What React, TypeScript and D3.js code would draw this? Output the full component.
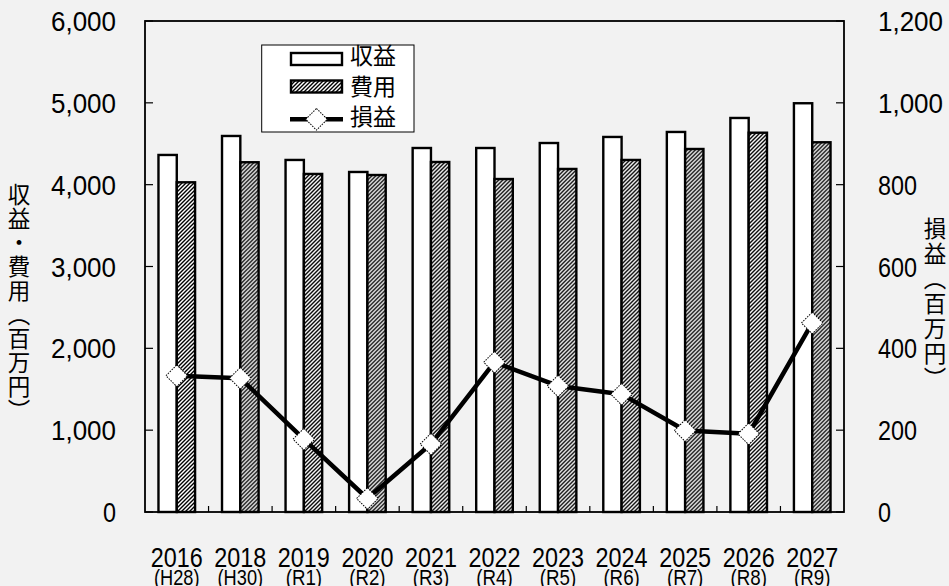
import React from 'react';
import * as d3 from 'd3';

const years = ['2016', '2018', '2019', '2020', '2021', '2022', '2023', '2024', '2025', '2026', '2027'];
const eras = ['(H28)', '(H30)', '(R1)', '(R2)', '(R3)', '(R4)', '(R5)', '(R6)', '(R7)', '(R8)', '(R9)'];
const revenue = [4363, 4595, 4302, 4155, 4448, 4448, 4509, 4583, 4644, 4815, 4995];
const expense = [4029, 4274, 4131, 4118, 4277, 4069, 4192, 4302, 4436, 4635, 4518];
const profit = [333, 327, 178, 33, 166, 366, 308, 288, 199, 191, 462];
const leftTicks = [0, 1000, 2000, 3000, 4000, 5000, 6000];
const rightTicks = [0, 200, 400, 600, 800, 1000, 1200];
const legendLabels = ['収益', '費用', '損益'];
const leftTitle = '収益・費用（百万円）';
const rightTitle = '損益（百万円）';

const W = 949;
const H = 586;
const L = 145, R = 844, T = 21, B = 512;
const numFont = '"Liberation Sans", Arial, sans-serif';
const jpFont = '"Noto Sans CJK JP", sans-serif';

export default function App() {
  const x = d3.scaleBand<string>().domain(years).range([L, R]).padding(0);
  const x1 = d3.scaleBand<string>().domain(['rev', 'exp']).range([0, x.bandwidth()]).paddingInner(0).paddingOuter(0.736);
  const yL = d3.scaleLinear().domain([0, 6000]).range([B, T]);
  const yR = d3.scaleLinear().domain([0, 1200]).range([B, T]);
  const fmt = d3.format(',');
  const cx = (y: string) => (x(y) as number) + x.bandwidth() / 2;
  const line = d3.line<number>().x((_, i) => cx(years[i])).y((d) => yR(d));
  const diamond = d3.symbol().type(d3.symbolSquare).size(234)() as string;

  const Marker = ({ px, py }: { px: number; py: number }) => (
    <path d={diamond} transform={`translate(${px},${py}) rotate(45)`} fill="#fff" stroke="#000" strokeWidth={1} strokeDasharray="1.5,1.2" />
  );

  return (
    <svg width={W} height={H} style={{ position: 'absolute', left: 0, top: 0, background: '#f2f2f2' }}>
      <defs>
        <pattern id="hatch" width={4} height={4} patternUnits="userSpaceOnUse">
          <rect width={4} height={4} fill="#fff" />
          <path d="M-1,1 L1,-1 M0,4 L4,0 M3,5 L5,3" stroke="#000" strokeWidth={1.4} />
        </pattern>
      </defs>
      <rect width={W} height={H} fill="#f2f2f2" />

      {/* bars */}
      {years.map((yr, i) => (
        <g key={yr} transform={`translate(${x(yr)},0)`}>
          <rect x={x1('rev')} y={yL(revenue[i])} width={x1.bandwidth()} height={B - yL(revenue[i])} fill="#fff" stroke="#000" strokeWidth={2.4} />
          <rect x={x1('exp')} y={yL(expense[i])} width={x1.bandwidth()} height={B - yL(expense[i])} fill="url(#hatch)" stroke="#000" strokeWidth={2.4} />
        </g>
      ))}

      {/* frame */}
      <rect x={L} y={T} width={R - L} height={B - T} fill="none" stroke="#000" strokeWidth={1.8} />

      {/* left ticks */}
      {leftTicks.map((v) => (
        <g key={'l' + v}>
          <line x1={L} x2={L + 8} y1={yL(v)} y2={yL(v)} stroke="#000" strokeWidth={1.2} />
          <text x={116} y={yL(v) + 10} textAnchor="end" fontFamily={numFont} fontSize={28} textLength={fmt(v).length * 13} lengthAdjust="spacingAndGlyphs">{fmt(v)}</text>
        </g>
      ))}
      {/* right ticks */}
      {rightTicks.map((v) => (
        <g key={'r' + v}>
          <line x1={R - 8} x2={R} y1={yR(v)} y2={yR(v)} stroke="#000" strokeWidth={1.2} />
          <text x={878} y={yR(v) + 10} textAnchor="start" fontFamily={numFont} fontSize={28} textLength={fmt(v).length * 13} lengthAdjust="spacingAndGlyphs">{fmt(v)}</text>
        </g>
      ))}
      {/* x ticks */}
      {years.slice(1).map((yr) => (
        <line key={'xt' + yr} x1={x(yr)} x2={x(yr)} y1={B} y2={B - 6} stroke="#000" strokeWidth={1.2} />
      ))}
      {years.map((yr, i) => (
        <g key={'xl' + yr}>
          <text x={cx(yr)} y={566.5} textAnchor="middle" fontFamily={numFont} fontSize={28.5} textLength={yr.length * 13} lengthAdjust="spacingAndGlyphs">{yr}</text>
          <text x={cx(yr)} y={585} textAnchor="middle" fontFamily={numFont} fontSize={22.5} textLength={eras[i].length * 9.1} lengthAdjust="spacingAndGlyphs">{eras[i]}</text>
        </g>
      ))}

      {/* profit line */}
      <path d={line(profit) as string} fill="none" stroke="#000" strokeWidth={4.5} strokeLinejoin="round" />
      {profit.map((v, i) => (
        <Marker key={'m' + i} px={cx(years[i])} py={yR(v)} />
      ))}

      {/* legend */}
      <rect x={261.7} y={45} width={152.3} height={87} fill="#fff" stroke="#000" strokeWidth={1} />
      <rect x={291} y={53} width={51} height={12} fill="#fff" stroke="#000" strokeWidth={2.4} />
      <rect x={291} y={80.5} width={51} height={12} fill="url(#hatch)" stroke="#000" strokeWidth={2.4} />
      <line x1={290} x2={343} y1={119.3} y2={119.3} stroke="#000" strokeWidth={4.5} />
      <Marker px={316.5} py={119.3} />
      {legendLabels.map((lab, i) => (
        <text key={lab} x={350} y={64 + i * 30.5} fontFamily={jpFont} fontSize={23}>{lab}</text>
      ))}

      {/* axis titles */}
      <text x={19} y={183} fontFamily={jpFont} fontSize={22.5} letterSpacing={1.5} style={{ writingMode: 'vertical-rl' } as any}>{leftTitle}</text>
      <text x={935} y={217} fontFamily={jpFont} fontSize={22.5} letterSpacing={2.5} style={{ writingMode: 'vertical-rl' } as any}>{rightTitle}</text>
    </svg>
  );
}
